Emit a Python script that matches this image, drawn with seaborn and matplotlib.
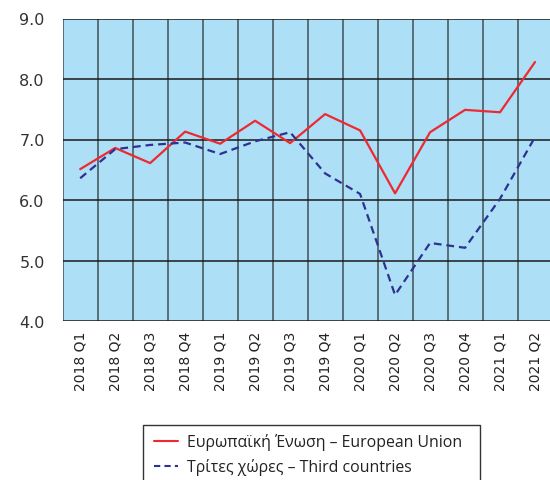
import matplotlib
matplotlib.use("Agg")
import matplotlib.pyplot as plt
from matplotlib.lines import Line2D
from matplotlib.patches import Rectangle
import seaborn as sns
import pandas as pd

quarters = ["2018 Q1", "2018 Q2", "2018 Q3", "2018 Q4",
            "2019 Q1", "2019 Q2", "2019 Q3", "2019 Q4",
            "2020 Q1", "2020 Q2", "2020 Q3", "2020 Q4",
            "2021 Q1", "2021 Q2"]
eu_values = [6.51, 6.86, 6.61, 7.13, 6.93, 7.31, 6.94, 7.42,
             7.15, 6.11, 7.12, 7.49, 7.45, 8.28]
third_values = [6.36, 6.84, 6.91, 6.95, 6.76, 6.97, 7.12, 6.44,
                6.10, 4.43, 5.29, 5.21, 6.02, 7.04]
series_names = ["Ευρωπαϊκή Ένωση – European Union",
                "Τρίτες χώρες – Third countries"]
y_ticks = [4.0, 5.0, 6.0, 7.0, 8.0, 9.0]

df = pd.DataFrame({
    "pos": list(range(len(quarters))) * 2,
    "value": eu_values + third_values,
    "series": [series_names[0]] * len(quarters) + [series_names[1]] * len(quarters),
})

sns.set_theme(style="white")
plt.rcParams["font.family"] = ["DejaVu Sans"]

W, H = 550, 481
fig = plt.figure(figsize=(W / 100, H / 100), dpi=100)
ax = fig.add_axes([62.7 / W, 1 - 322 / H, (552.5 - 62.7) / W, (322 - 19.5) / H])
ax.set_facecolor("#ADDFF7")

red, navy = "#EE2A30", "#2E3192"
sns.lineplot(data=df, x="pos", y="value", hue="series", style="series",
             palette=[red, navy], dashes=["", (3.5, 2.2)],
             linewidth=1.6, ax=ax, legend=False, zorder=3)

ax.set_xlim(-0.5, len(quarters) - 0.5)
ax.set_ylim(4.0, 9.0)
ax.set_xticks(range(len(quarters)))
ax.set_xticklabels(quarters, rotation=90, fontsize=10, color="#222222")
ax.set_yticks(y_ticks)
ax.set_yticklabels([f"{v:.1f}" for v in y_ticks], fontsize=11.5, color="#333333")
ax.tick_params(axis="x", length=0, pad=7)
ax.tick_params(axis="y", length=8, width=1, color="#222222", pad=5, direction="out")
ax.set_xlabel("")
ax.set_ylabel("")

# category boundaries and value grid
for b in range(len(quarters) + 1):
    ax.axvline(b - 0.5, color="#4a5a62", linewidth=1.2, zorder=2)
for v in y_ticks:
    ax.axhline(v, color="#1a1a1a", linewidth=1.1, zorder=2)
for s in ax.spines.values():
    s.set_visible(False)

# legend box running off the bottom edge
fig.add_artist(Rectangle((143 / W, -0.05), (480 - 143) / W, 1 - 426 / H + 0.05,
                         transform=fig.transFigure, facecolor="white",
                         edgecolor="#333333", linewidth=1.0))
handles = [Line2D([], [], color=red, linewidth=1.5),
           Line2D([], [], color=navy, linewidth=1.5, linestyle=(0, (3, 2)))]
leg = fig.legend(handles, series_names, loc="upper left",
                 bbox_to_anchor=(151 / W, 1 - 431 / H),
                 frameon=False,
                 prop={"family": "Open Sans", "size": 11.4},
                 handlelength=1.5, handletextpad=0.55, borderpad=0.2,
                 labelspacing=0.5, borderaxespad=0)
for t in leg.get_texts():
    t.set_color("#222222")

fig.savefig("out.png", dpi=100)
